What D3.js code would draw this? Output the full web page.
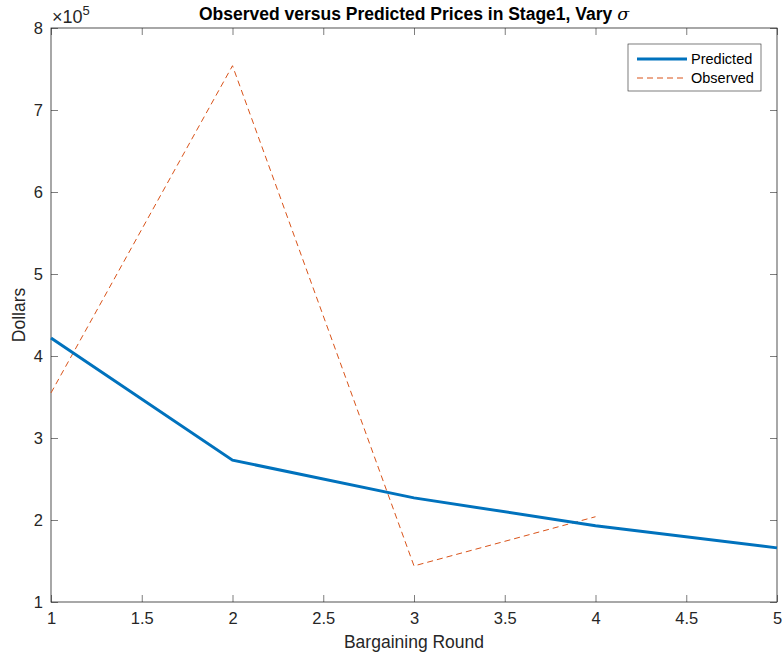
<!DOCTYPE html>
<html>
<head>
<meta charset="utf-8">
<script src="https://cdn.jsdelivr.net/npm/d3@7"></script>
<style>
  body { margin: 0; background: #fff; }
  text { font-family: Arial, "Liberation Sans", sans-serif; }
</style>
</head>
<body>
<div id="chart"></div>
<script>
const rounds = [1, 2, 3, 4, 5]
const predicted = [4.22, 2.73, 2.27, 1.93, 1.66]
const observedRounds = [1, 2, 3, 4]
const observed = [3.55, 7.54, 1.44, 2.04]
const xTicks = [1, 1.5, 2, 2.5, 3, 3.5, 4, 4.5, 5]
const yTicks = [1, 2, 3, 4, 5, 6, 7, 8]

const W = 783, H = 660
const m = {left: 51, right: 6, top: 28, bottom: 58}
const iw = W - m.left - m.right, ih = H - m.top - m.bottom

const svg = d3.select("#chart").append("svg")
    .attr("width", W).attr("height", H)

const x = d3.scaleLinear().domain([1, 5]).range([m.left, m.left + iw])
const y = d3.scaleLinear().domain([1, 8]).range([m.top + ih, m.top])

const axisColor = "#262626"
const tickLen = 7

function styleAxis(g) {
  g.attr("font-size", 16.5).attr("font-family", null)
  g.select(".domain").remove()
  g.selectAll(".tick line").attr("stroke", axisColor).attr("stroke-width", 0.6)
  g.selectAll(".tick text").attr("fill", axisColor)
}

// bottom axis, ticks inward
svg.append("g")
    .attr("transform", `translate(0,${m.top + ih})`)
    .call(d3.axisBottom(x).tickValues(xTicks).tickSizeInner(-tickLen).tickSizeOuter(0).tickPadding(10).tickFormat(d3.format("")))
    .call(styleAxis)

// top axis ticks only
svg.append("g")
    .attr("transform", `translate(0,${m.top})`)
    .call(d3.axisTop(x).tickValues(xTicks).tickSizeInner(-tickLen).tickSizeOuter(0).tickFormat(""))
    .call(styleAxis)

// left axis
svg.append("g")
    .attr("transform", `translate(${m.left},0)`)
    .call(d3.axisLeft(y).tickValues(yTicks).tickSizeInner(-tickLen).tickSizeOuter(0).tickPadding(8).tickFormat(d3.format("")))
    .call(styleAxis)

// right axis ticks only
svg.append("g")
    .attr("transform", `translate(${m.left + iw},0)`)
    .call(d3.axisRight(y).tickValues(yTicks).tickSizeInner(-tickLen).tickSizeOuter(0).tickFormat(""))
    .call(styleAxis)

// box
svg.append("rect")
    .attr("x", m.left).attr("y", m.top)
    .attr("width", iw).attr("height", ih)
    .attr("fill", "none").attr("stroke", axisColor).attr("stroke-width", 0.8)

// exponent label
const ex = svg.append("text")
    .attr("x", m.left + 1).attr("y", m.top - 5)
    .attr("font-size", 18).attr("fill", axisColor)
ex.append("tspan").text("\u00d710")
ex.append("tspan").attr("dy", -8).attr("font-size", 13).text("5")

const line = d3.line()

svg.append("path")
    .datum(observedRounds.map((r, i) => [x(r), y(observed[i])]))
    .attr("d", line)
    .attr("fill", "none")
    .attr("stroke", "#D95319")
    .attr("stroke-width", 1)
    .attr("stroke-dasharray", "6,4")

svg.append("path")
    .datum(rounds.map((r, i) => [x(r), y(predicted[i])]))
    .attr("d", line)
    .attr("fill", "none")
    .attr("stroke", "#0072BD")
    .attr("stroke-width", 3)

// title
const title = svg.append("text")
    .attr("x", m.left + iw / 2).attr("y", 20)
    .attr("text-anchor", "middle")
    .attr("font-size", 17.5).attr("font-weight", "bold").attr("fill", "#000")
title.append("tspan").text("Observed versus Predicted Prices in Stage1, Vary ")
title.append("tspan").attr("font-style", "italic").attr("font-weight", "normal")
    .attr("font-family", "'DejaVu Serif', serif").text("\u03c3")

// axis labels
svg.append("text")
    .attr("x", m.left + iw / 2).attr("y", 648)
    .attr("text-anchor", "middle").attr("font-size", 17.5).attr("fill", axisColor)
    .text("Bargaining Round")

svg.append("text")
    .attr("transform", `translate(25,${m.top + ih / 2}) rotate(-90)`)
    .attr("text-anchor", "middle").attr("font-size", 17.5).attr("fill", axisColor)
    .text("Dollars")

// legend
const lg = svg.append("g").attr("transform", "translate(628,44)")
lg.append("rect").attr("width", 133).attr("height", 47)
    .attr("fill", "#fff").attr("stroke", axisColor).attr("stroke-width", 0.6)
const items = [
  {name: "Predicted", color: "#0072BD", w: 3, dash: null},
  {name: "Observed", color: "#D95319", w: 1, dash: "6,4"}
]
items.forEach((d, i) => {
  const yy = 15 + i * 19
  lg.append("line").attr("x1", 9).attr("x2", 59).attr("y1", yy).attr("y2", yy)
    .attr("stroke", d.color).attr("stroke-width", d.w)
    .attr("stroke-dasharray", d.dash)
  lg.append("text").attr("x", 63).attr("y", yy + 5)
    .attr("font-size", 14.5).attr("fill", "#000").text(d.name)
})
</script>
</body>
</html>
